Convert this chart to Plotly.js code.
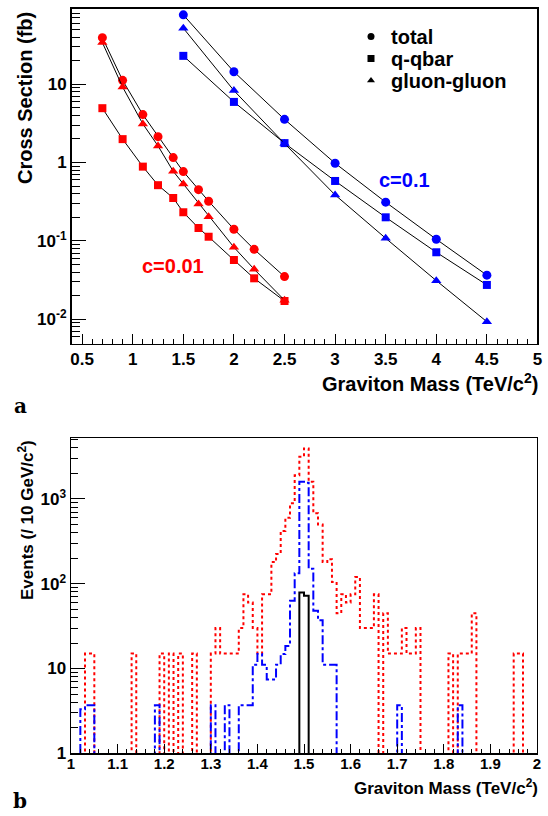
<!DOCTYPE html>
<html><head><meta charset="utf-8">
<script src="https://cdn.plot.ly/plotly-3.0.1.min.js"></script>
<style>html,body{margin:0;padding:0;background:#fff}#chart{width:548px;height:816px}</style>
</head><body><div id="chart"></div>
<script>
// ---- panel a data ----
const massC001 = [0.7, 0.9, 1.1, 1.25, 1.4, 1.5, 1.65, 1.75, 2.0, 2.2, 2.5];
const totalC001 = [39.3, 11.2, 4.09, 2.14, 1.156, 0.766, 0.451, 0.321, 0.141, 0.078, 0.035];
const qqbarC001 = [4.94, 1.99, 0.887, 0.514, 0.353, 0.232, 0.146, 0.113, 0.057, 0.0333, 0.0171];
const ggC001 = [34, 9.2, 3.11, 1.63, 0.774, 0.533, 0.296, 0.204, 0.083, 0.0435, 0.0175];
const massC01 = [1.5, 2.0, 2.5, 3.0, 3.5, 4.0, 4.5];
const totalC01 = [76.7, 14.4, 3.56, 0.98, 0.312, 0.105, 0.0365];
const qqbarC01 = [23, 5.94, 1.77, 0.582, 0.2, 0.0716, 0.0274];
const ggC01 = [51.9, 8.29, 1.75, 0.386, 0.108, 0.0311, 0.0093];
const legendNames = ["total", "q-qbar", "gluon-gluon"];

// ---- panel b data (10 GeV bins from 1.00 to 2.00 TeV) ----
const binStart = 1.0, binWidth = 0.01;
const redHist = [
  0,0,0,15,15,0,0,0,0,0,
  0,0,0,15,0,0,0,0,0,15,
  0,15,0,15,0,0,15,0,0,0,
  15,30,15,15,15,15,30,75,60,30,
  15,75,75,180,225,420,600,890,1900,3150,
  3950,1600,680,500,180,195,105,45,75,60,
  75,120,30,30,30,75,0,45,15,15,
  15,30,15,15,30,0,0,0,0,0,
  0,15,0,15,15,15,45,0,0,0,
  0,0,0,0,0,15,15,0,0,0];
const blueHist = [
  0,0,3.3,3.7,3.7,0,0,0,0,0,
  0,0,0,0,0,0,0,0,3.7,0,
  0,0,0,0,0,0,0,0,0,0,
  3.7,0,0,3.7,0,0,3.7,3.7,3.7,11.1,
  14.8,11.1,7.4,7.4,11.1,14.8,18.5,63,133,1600,
  1550,150,48,37,11.1,11.1,11.1,0,0,0,
  0,0,0,0,0,0,0,0,0,0,
  3.7,0,0,0,0,0,0,0,0,0,
  0,0,0,3.7,0,0,0,0,0,0,
  0,0,0,0,0,0,0,0,0,0];
const blackHist = new Array(100).fill(0);
blackHist[49] = 79; blackHist[50] = 72;

function stepTrace(vals, color, dash, width) {
  const x = [], y = [];
  for (let i = 0; i < vals.length; i++) {
    x.push(binStart + i * binWidth);
    y.push(vals[i] > 0 ? vals[i] : 0.3);
  }
  x.push(binStart + vals.length * binWidth);
  y.push(vals[vals.length - 1] > 0 ? vals[vals.length - 1] : 0.3);
  return {x, y, type: 'scatter', mode: 'lines', xaxis: 'x2', yaxis: 'y2',
    line: {shape: 'hv', color, dash, width}, showlegend: false, hoverinfo: 'skip'};
}

function series(x, y, color, symbol, size) {
  return {x, y, type: 'scatter', mode: 'lines+markers', xaxis: 'x', yaxis: 'y',
    line: {color: 'black', width: 1}, marker: {color, symbol, size},
    showlegend: false, cliponaxis: false};
}

const traces = [
  series(massC001, totalC001, '#ff0000', 'circle', 9),
  series(massC001, qqbarC001, '#ff0000', 'square', 8),
  series(massC001, ggC001, '#ff0000', 'triangle-up', 9),
  series(massC01, totalC01, '#0000ff', 'circle', 9),
  series(massC01, qqbarC01, '#0000ff', 'square', 8),
  series(massC01, ggC01, '#0000ff', 'triangle-up', 9),
];
const legIds = ['legend', 'legend2', 'legend3'];
['circle', 'square', 'triangle-up'].forEach((s, i) => {
  traces.push({x: [null], y: [null], type: 'scatter', mode: 'markers', xaxis: 'x', yaxis: 'y',
    name: legendNames[i], legend: legIds[i],
    marker: {color: 'black', symbol: s, size: 7}, showlegend: true});
});
traces.push(stepTrace(redHist, '#ff0000', 'dot', 2));
traces.push(stepTrace(blueHist, '#0000ff', 'dashdot', 2));
traces.push(stepTrace(blackHist, '#000000', 'solid', 2));

function logMinor(lo, hi) {
  const v = [];
  for (let k = lo; k <= hi; k++) for (let m = 2; m <= 9; m++) v.push(m * Math.pow(10, k));
  return v;
}
const FONT = 'Liberation Sans, Arial, Helvetica, sans-serif';
const axBase = {showline: true, mirror: true, linecolor: 'black', linewidth: 1.5,
  showgrid: false, zeroline: false, ticks: 'inside', tickcolor: 'black', tickwidth: 1};
function leg(topPx) {
  return {x: 351 / 548, y: 1 - topPx / 816, xanchor: 'left', yanchor: 'top',
    bgcolor: 'rgba(0,0,0,0)', font: {family: FONT, size: 20, weight: 'bold'}, itemwidth: 30};
}

const layout = {
  width: 548, height: 816, margin: {l: 0, r: 0, t: 0, b: 0},
  paper_bgcolor: 'white', plot_bgcolor: 'white',
  font: {family: FONT, color: 'black', size: 16, weight: 'bold'},
  showlegend: true,
  legend: leg(17), legend2: leg(39), legend3: leg(61),
  xaxis: Object.assign({}, axBase, {domain: [0.1305, 0.9808], anchor: 'y',
    range: [0.395, 5.0], tickmode: 'linear', tick0: 0.5, dtick: 0.5, ticklen: 10,
    tickfont: {family: FONT, size: 17, weight: 'bold'},
    minor: {dtick: 0.1, tick0: 0.5, ticklen: 5, ticks: 'inside', tickcolor: 'black'}}),
  yaxis: Object.assign({}, axBase, {domain: [0.5790, 0.9890], anchor: 'x', type: 'log',
    range: [-2.31, 1.96], tickmode: 'array', tickvals: [0.01, 0.1, 1, 10],
    ticktext: ['10<sup>-2</sup>', '10<sup>-1</sup>', '1', '10'], ticklen: 14,
    tickfont: {family: FONT, size: 17, weight: 'bold'},
    minor: {tickmode: 'array', tickvals: logMinor(-3, 1), ticklen: 8, ticks: 'inside', tickcolor: 'black'}}),
  xaxis2: Object.assign({}, axBase, {domain: [0.1296, 0.9799], anchor: 'y2',
    range: [1, 2], tickmode: 'linear', tick0: 1, dtick: 0.1, ticklen: 9,
    ticklabelstandoff: -4,
    tickfont: {family: FONT, size: 15, weight: 'bold'},
    minor: {dtick: 0.02, tick0: 1, ticklen: 4, ticks: 'inside', tickcolor: 'black'}}),
  yaxis2: Object.assign({}, axBase, {domain: [0.07684, 0.46287], anchor: 'x2', type: 'log',
    range: [0, 3.716], tickmode: 'array', tickvals: [1, 10, 100, 1000],
    ticktext: ['1', '10', '10<sup>2</sup>', '10<sup>3</sup>'], ticklen: 14,
    tickfont: {family: FONT, size: 17, weight: 'bold'},
    minor: {tickmode: 'array', tickvals: logMinor(0, 3), ticklen: 7, ticks: 'inside', tickcolor: 'black'}}),
  annotations: [
    {text: 'Cross Section (fb)', xref: 'paper', yref: 'paper', x: 25 / 548, y: 1 - 10 / 816,
      xanchor: 'center', yanchor: 'top', textangle: -90, showarrow: false,
      font: {family: FONT, size: 20, weight: 'bold'}},
    {text: 'Graviton Mass (TeV/c<sup>2</sup>)', xref: 'paper', yref: 'paper', x: 540 / 548, y: 1 - 382 / 816,
      xanchor: 'right', yanchor: 'middle', showarrow: false,
      font: {family: FONT, size: 20, weight: 'bold'}},
    {text: 'a', xref: 'paper', yref: 'paper', x: 20 / 548, y: 1 - 406 / 816,
      xanchor: 'center', yanchor: 'middle', showarrow: false,
      font: {family: 'DejaVu Serif, Liberation Serif, serif', size: 20, weight: 'bold'}},
    {text: 'c=0.01', xref: 'x', yref: 'y', x: 1.397, y: -1.32, showarrow: false,
      font: {family: FONT, size: 20, weight: 'bold', color: '#ff0000'}},
    {text: 'c=0.1', xref: 'x', yref: 'y', x: 3.687, y: -0.222, showarrow: false,
      font: {family: FONT, size: 20, weight: 'bold', color: '#0000ff'}},
    {text: 'Events (/ 10 GeV/c<sup>2</sup>)', xref: 'paper', yref: 'paper', x: 26 / 548, y: 1 - 438 / 816,
      xanchor: 'center', yanchor: 'top', textangle: -90, showarrow: false,
      font: {family: FONT, size: 17, weight: 'bold'}},
    {text: 'Graviton Mass (TeV/c<sup>2</sup>)', xref: 'paper', yref: 'paper', x: 540 / 548, y: 1 - 787 / 816,
      xanchor: 'right', yanchor: 'middle', showarrow: false,
      font: {family: FONT, size: 17, weight: 'bold'}},
    {text: 'b', xref: 'paper', yref: 'paper', x: 20 / 548, y: 1 - 801 / 816,
      xanchor: 'center', yanchor: 'middle', showarrow: false,
      font: {family: 'DejaVu Serif, Liberation Serif, serif', size: 20, weight: 'bold'}}
  ]
};
Plotly.newPlot('chart', traces, layout, {staticPlot: true, displayModeBar: false});
</script></body></html>
